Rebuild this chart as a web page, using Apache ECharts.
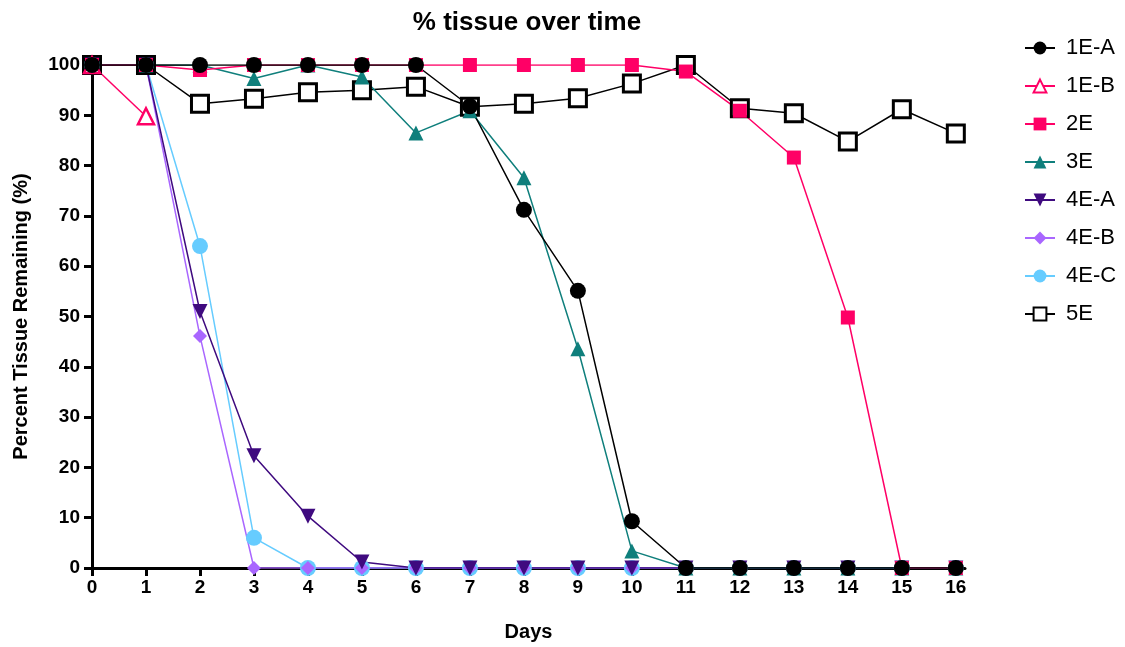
<!DOCTYPE html>
<html>
<head>
<meta charset="utf-8">
<title>% tissue over time</title>
<script src="https://cdn.jsdelivr.net/npm/echarts@6/dist/echarts.min.js"></script>
<style>
  html, body { margin: 0; padding: 0; background: #fff; }
  #chart { width: 1125px; height: 647px; }
</style>
</head>
<body>
<div id="chart"></div>
<script>
// days on the x axis
const days = [0, 1, 2, 3, 4, 5, 6, 7, 8, 9, 10, 11, 12, 13, 14, 15, 16]
const yTicks = [0, 10, 20, 30, 40, 50, 60, 70, 80, 90, 100]

// % tissue remaining per sample
const s1EA = [100, 100, 100, 100, 100, 100, 100, 91.8, 71.2, 55.1, 9.3, 0, 0, 0, 0, 0, 0]
const s1EB = [100, 89.8, null, null, null, null, null, null, null, null, null, null, null, null, null, null, null]
const s2E  = [100, 100, 99, 100, 100, 100, 100, 100, 100, 100, 100, 98.7, 90.9, 81.6, 49.8, 0, 0]
const s3E  = [100, 100, 100, 97.3, 100, 97.6, 86.5, 90.9, 77.6, 43.6, 3.4, 0, 0, 0, 0, 0, 0]
const s4EA = [100, 100, 51, 22.3, 10.3, 1.2, 0, 0, 0, 0, 0, 0, 0, 0, 0, 0, 0]
const s4EB = [100, 100, 46.1, 0, 0, 0, 0, 0, 0, 0, 0, 0, 0, 0, 0, 0, 0]
const s4EC = [100, 100, 64, 6, 0, 0, 0, 0, 0, 0, 0, 0, 0, 0, 0, 0, 0]
const s5E  = [100, 100, 92.3, 93.3, 94.6, 95, 95.7, 91.7, 92.3, 93.4, 96.3, 100, 91.4, 90.4, 84.8, 91.2, 86.4]

const legendNames = ['1E-A', '1E-B', '2E', '3E', '4E-A', '4E-B', '4E-C', '5E']

const pairs = vals => days.map((d, i) => [d, vals[i]])

function mkSeries(name, vals, color, symbol, size, opts) {
  opts = opts || {}
  return {
    name: name,
    type: 'line',
    data: pairs(vals),
    symbol: symbol,
    symbolSize: size,
    symbolRotate: opts.rotate || 0,
    connectNulls: false,
    lineStyle: { color: color, width: 1.5 },
    itemStyle: {
      color: opts.hollow ? '#fff' : color,
      borderColor: color,
      borderWidth: opts.hollow ? (opts.bw || 2.5) : 0
    },
    emphasis: { disabled: true },
    animation: false
  }
}

const chart = echarts.init(document.getElementById('chart'))

// later series paint on top, so list them back to front
const series = [
  mkSeries('5E', s5E, '#000000', 'rect', 17, { hollow: true, bw: 3 }),
  mkSeries('4E-C', s4EC, '#66ccff', 'circle', 16),
  mkSeries('4E-B', s4EB, '#a966ff', 'diamond', 14),
  mkSeries('4E-A', s4EA, '#3f0a7f', 'triangle', 15, { rotate: 180 }),
  mkSeries('3E', s3E, '#0f7f7c', 'triangle', 15),
  mkSeries('2E', s2E, '#ff0066', 'rect', 14),
  mkSeries('1E-B', s1EB, '#ff0066', 'triangle', 16, { hollow: true }),
  mkSeries('1E-A', s1EA, '#000000', 'circle', 16)
]

const axisFont = { fontFamily: 'Liberation Sans', fontWeight: 'bold', fontSize: 19, color: '#000' }
const nameFont = { fontFamily: 'Liberation Sans', fontWeight: 'bold', fontSize: 20, color: '#000' }

chart.setOption({
  backgroundColor: '#fff',
  title: {
    text: '% tissue over time',
    left: 522,
    textAlign: 'center',
    top: 5,
    textStyle: { fontFamily: 'Liberation Sans', fontWeight: 'bold', fontSize: 26, color: '#000' }
  },
  legend: {
    data: legendNames,
    orient: 'vertical',
    left: 1019,
    top: 32,
    itemWidth: 30,
    itemHeight: 16,
    itemGap: 16,
    selectedMode: false,
    textStyle: { fontFamily: 'Liberation Sans', fontSize: 22, color: '#000', padding: [0, 0, 0, 6] }
  },
  grid: { left: 92, right: 160, top: 65, bottom: 76, containLabel: false },
  xAxis: {
    type: 'value',
    min: 0,
    max: 16.17,
    name: 'Days',
    nameLocation: 'middle',
    nameGap: 54,
    nameTextStyle: nameFont,
    axisLine: { show: true, onZero: false, lineStyle: { color: '#000', width: 3 } },
    axisTick: { show: true, length: 8, customValues: days, lineStyle: { color: '#000', width: 3 } },
    axisLabel: Object.assign({ margin: 10, customValues: days }, axisFont),
    splitLine: { show: false }
  },
  yAxis: {
    type: 'value',
    min: 0,
    max: 100,
    interval: 10,
    name: 'Percent Tissue Remaining (%)',
    nameLocation: 'middle',
    nameGap: 61,
    nameTextStyle: nameFont,
    axisLine: { show: true, onZero: false, lineStyle: { color: '#000', width: 3 } },
    axisTick: { show: true, length: 8, customValues: yTicks, lineStyle: { color: '#000', width: 3 } },
    axisLabel: Object.assign({ margin: 12, customValues: yTicks }, axisFont),
    splitLine: { show: false }
  },
  series: series
})
</script>
</body>
</html>
